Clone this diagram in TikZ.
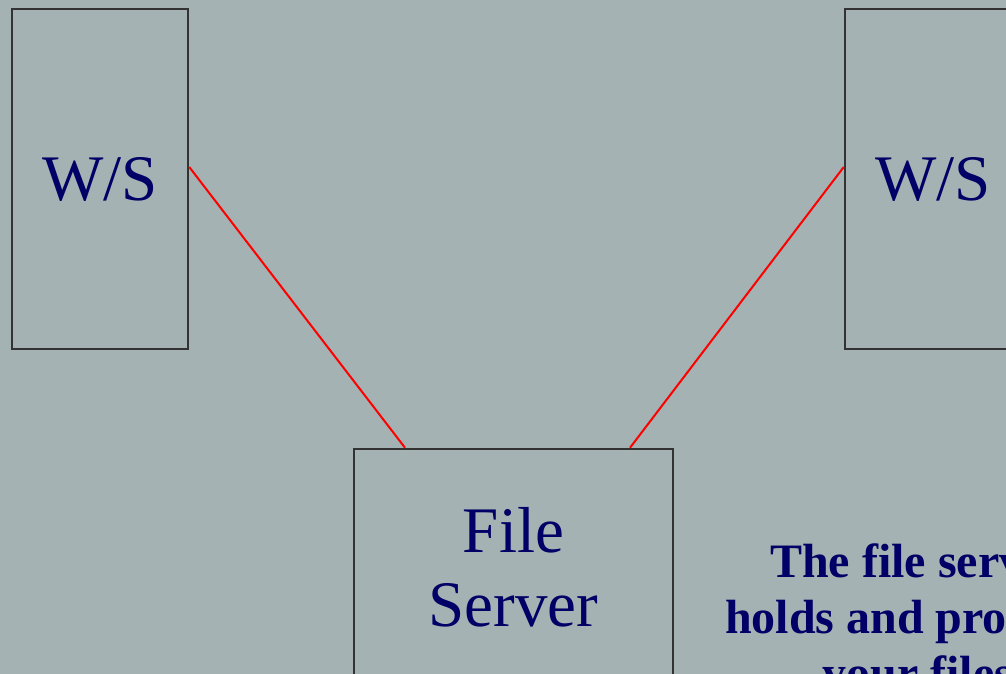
\documentclass[tikz,border=0pt]{standalone}
\usepackage{fontspec}
\setmainfont{Liberation Serif}
\definecolor{slidebg}{HTML}{A5B2B3}
\definecolor{navy}{HTML}{000066}
\definecolor{boxline}{HTML}{333333}
\begin{document}
\begin{tikzpicture}[x=1pt,y=-1pt,
    box/.style={draw=boxline, line width=2.5pt, rectangle, inner sep=0pt,
      text=navy, font=\fontsize{65}{74}\selectfont, align=center},
    link/.style={draw=red, line width=2pt}]
          \useasboundingbox (0,0) rectangle (1006,674);
          \fill[slidebg] (0,0) rectangle (1006,674);
          \clip (0,0) rectangle (1006,674);

          \node[box, minimum width=176pt, minimum height=340pt] (wsl) at (100,179) {W/S};
          \node[box, minimum width=176pt, minimum height=340pt] (wsr) at (933,179) {W/S};
          \node[box, minimum width=319pt, minimum height=236pt] (fs) at (513.5,567) {File\\Server};
          \node[text=navy, align=center, inner sep=0pt, anchor=north,
            font=\bfseries\fontsize{48}{56}\selectfont] (note) at (918,543)
            {The file server\\holds and provides\\your files};

          \draw[link] ([yshift=12pt]wsl.east) -- ([xshift=-108.5pt]fs.north);
          \draw[link] ([yshift=12pt]wsr.west) -- ([xshift=116.5pt]fs.north);
        \end{tikzpicture}
\end{document}
